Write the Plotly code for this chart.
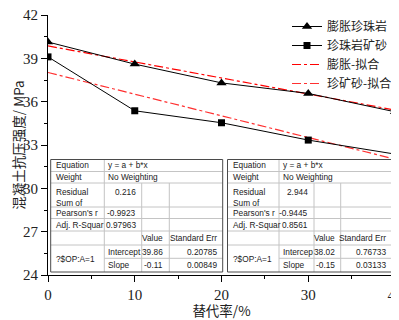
import plotly.graph_objects as go

# ---------------- data ----------------
replacement_rate = [0, 10, 20, 30, 40]
expanded_perlite = [40.13, 38.6, 37.3, 36.57, 35.3]
perlite_tailings = [39.1, 35.37, 34.54, 33.34, 32.37]
fit_x = [0, 40]
fit_expanded = [39.86, 35.42]
fit_tailings = [38.02, 32.02]

series_names = ["膨胀珍珠岩", "珍珠岩矿砂", "膨胀-拟合", "珍矿砂-拟合"]
x_ticks = [0, 10, 20, 30, 40]
y_ticks = [24, 27, 30, 33, 36, 39, 42]

row_labels = ["Equation", "Weight", "Residual<br>Sum of", "Pearson's r", "Adj. R-Squar"]
left_table = {
    "equation": "y = a + b*x", "weight": "No Weighting", "rss": "0.216",
    "pearson": "-0.9923", "adjr2": "0.97963", "group": "?$OP:A=1",
    "param_names": ["Intercept", "Slope"], "values": ["39.86", "-0.11"],
    "errors": ["0.20785", "0.00849"],
}
right_table = {
    "equation": "y = a + b*x", "weight": "No Weighting", "rss": "2.944",
    "pearson": "-0.9445", "adjr2": "0.8561", "group": "?$OP:A=1",
    "param_names": ["Intercep", "Slope"], "values": ["38.02", "-0.15"],
    "errors": ["0.76733", "0.03133"],
}
header_texts = ["Value", "Standard Err"]

# ---------------- layout constants ----------------
# the page body has an 8px margin, so the figure is made 8px smaller
BODY = 8
SW, SH = 399, 320                    # screen size
W, H = SW - BODY, SH - BODY          # figure size
PLOT_L, PLOT_R, PLOT_T, PLOT_B = 48, 395, 15, 275   # plot area in screen px
ML, MT = PLOT_L - BODY, PLOT_T - BODY
MR, MB = (SW - PLOT_R), (SH - PLOT_B)
PW, PH = PLOT_R - PLOT_L, PLOT_B - PLOT_T


def px(x):
    return (x - PLOT_L) / PW


def py(y):
    return (PLOT_B - y) / PH


fig = go.Figure()

fig.add_trace(go.Scatter(x=fit_x, y=fit_expanded, mode="lines", name=series_names[2],
                         line=dict(color="#ff0000", width=1.2, dash="dashdot"), legendrank=3))
fig.add_trace(go.Scatter(x=fit_x, y=fit_tailings, mode="lines", name=series_names[3],
                         line=dict(color="#ff3030", width=1.2, dash="dashdot"), legendrank=4))
fig.add_trace(go.Scatter(x=replacement_rate, y=expanded_perlite, mode="lines+markers",
                         name=series_names[0], line=dict(color="black", width=1),
                         marker=dict(symbol="triangle-up", size=9, color="black"), legendrank=1))
fig.add_trace(go.Scatter(x=replacement_rate, y=perlite_tailings, mode="lines+markers",
                         name=series_names[1], line=dict(color="black", width=1),
                         marker=dict(symbol="square", size=7, color="black"), legendrank=2))

ROWS = [159.5, 171.5, 183, 207, 218.5, 231, 245, 258.3, 272]
LEFT_COLS = [50.7, 104.3, 141.7, 169.3, 222.7]
RIGHT_COLS = [227.5, 279, 314, 340.7, 392]

shapes = []
annotations = []
GRID = "#c4c4c4"
BORDER = "#4a4a4a"
TFONT = dict(family="Liberation Sans, Arial", size=8.3, color="#222")


def hline(y, x0, x1, color=GRID):
    shapes.append(dict(type="line", xref="paper", yref="paper", x0=px(x0), x1=px(x1),
                       y0=py(y), y1=py(y), line=dict(color=color, width=1), layer="above"))


def vline(x, y0, y1, color=GRID):
    shapes.append(dict(type="line", xref="paper", yref="paper", x0=px(x), x1=px(x),
                       y0=py(y0), y1=py(y1), line=dict(color=color, width=1), layer="above"))


def text(t, x, y, xanchor, yanchor="middle"):
    annotations.append(dict(text=t, x=px(x), y=py(y), xref="paper", yref="paper",
                            xanchor=xanchor, yanchor=yanchor, showarrow=False,
                            font=TFONT, align="left"))


def mid(a, b):
    return (a + b) / 2


def build_table(cols, d):
    c0, c1, c2, c3, c4 = cols
    R = ROWS
    shapes.append(dict(type="rect", xref="paper", yref="paper", x0=px(c0), x1=px(c4),
                       y0=py(R[8]), y1=py(R[0]), fillcolor="white",
                       line=dict(color="rgba(0,0,0,0)", width=0), layer="above"))
    for i in range(1, 7):
        hline(R[i], c0, c4)
    hline(R[7], c1, c4)
    vline(c1, R[0], R[8])
    vline(c2, R[2], R[8])
    vline(c3, R[2], R[8])
    shapes.append(dict(type="rect", xref="paper", yref="paper", x0=px(c0), x1=px(c4),
                       y0=py(R[8]), y1=py(R[0]), line=dict(color=BORDER, width=1), layer="above"))
    pad_l, pad_r = 3, 4
    text(row_labels[0], c0 + pad_l, mid(R[0], R[1]), "left")
    text(row_labels[1], c0 + pad_l, mid(R[1], R[2]), "left")
    text(row_labels[2], c0 + pad_l, R[2] + 1.5, "left", "top")
    text(row_labels[3], c0 + pad_l, mid(R[3], R[4]), "left")
    text(row_labels[4], c0 + pad_l, mid(R[4], R[5]), "left")
    text(d["group"], c0 + pad_l, mid(R[6], R[8]), "left")
    text(d["equation"], c1 + 2, mid(R[0], R[1]), "left")
    text(d["weight"], c1 + 2, mid(R[1], R[2]), "left")
    text(d["rss"], c2 - pad_r, R[2] + 1.5, "right", "top")
    text(d["pearson"], c2 - pad_r, mid(R[3], R[4]), "right")
    text(d["adjr2"], c2 - pad_r, mid(R[4], R[5]), "right")
    text(header_texts[0], c3 - pad_r, mid(R[5], R[6]), "right")
    text(header_texts[1], c4 - pad_r, mid(R[5], R[6]), "right")
    for k in range(2):
        ya, yb = R[6 + k], R[7 + k]
        text(d["param_names"][k], c1 + 2, mid(ya, yb), "left")
        text(d["values"][k], c3 - pad_r, mid(ya, yb), "right")
        text(d["errors"][k], c4 - pad_r, mid(ya, yb), "right")


build_table(LEFT_COLS, left_table)
build_table(RIGHT_COLS, right_table)

tick_font = dict(family="Liberation Serif, Times New Roman", size=15, color="#222")
title_font = dict(family="Noto Sans CJK SC", size=13.5, color="#222")

fig.update_layout(
    width=W, height=H,
    margin=dict(l=ML, r=MR, t=MT, b=MB, autoexpand=False),
    paper_bgcolor="white", plot_bgcolor="white",
    showlegend=True,
    legend=dict(x=px(287), y=py(12), xanchor="left", yanchor="top",
                bgcolor="rgba(0,0,0,0)", font=dict(family="Noto Sans CJK SC", size=12, color="#222"),
                tracegroupgap=0, itemwidth=30),
    xaxis=dict(range=[0, 40], tickvals=x_ticks, ticks="outside", ticklen=6, tickwidth=1,
               tickcolor="black", showline=True, linecolor="black", linewidth=1,
               showgrid=False, zeroline=False, tickfont=tick_font, ticklabeloverflow="allow",
               minor=dict(dtick=5, ticks="outside", ticklen=3, tickcolor="black", showgrid=False),
               title=dict(text="替代率/%", font=title_font, standoff=17)),
    yaxis=dict(range=[24, 42], tickvals=y_ticks, ticks="outside", ticklen=6, tickwidth=1,
               tickcolor="black", showline=True, linecolor="black", linewidth=1,
               showgrid=False, zeroline=False, tickfont=tick_font, ticklabeloverflow="allow",
               minor=dict(dtick=1.5, ticks="outside", ticklen=3, tickcolor="black", showgrid=False),
               title=dict(text="混凝土抗压强度/ MPa", font=title_font, standoff=0)),
    shapes=shapes,
    annotations=annotations,
)

fig.write_html("out.html")
